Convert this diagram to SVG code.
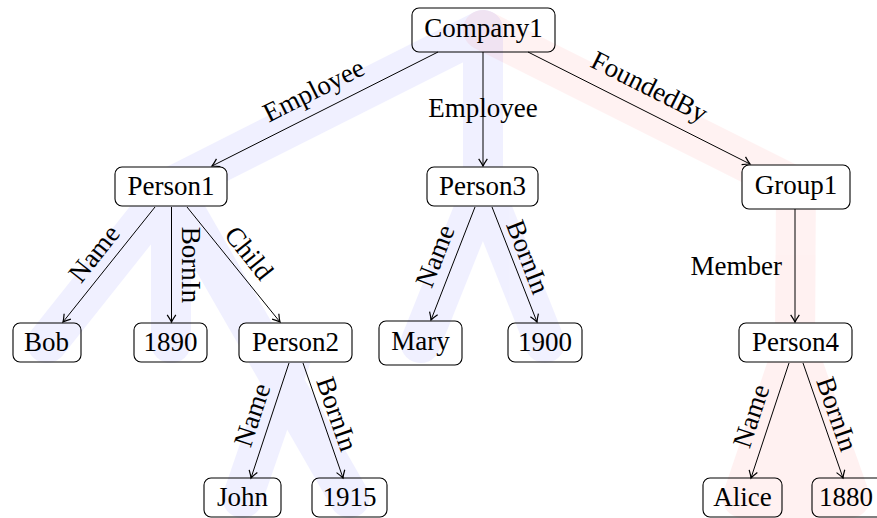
<svg xmlns="http://www.w3.org/2000/svg" width="877" height="518" viewBox="0 0 877 518">
<defs>
<style>
text{font-family:'Liberation Serif','DejaVu Serif',serif;font-size:27px;fill:#000}
.n text{text-anchor:middle}
.box{stroke:#000;stroke-width:1.1}
.in{fill:#fff}
.lf{fill:none}
.e line{stroke:#000;stroke-width:1;marker-end:url(#arr)}
.lbl text{text-anchor:middle}
.band{fill:none;stroke-width:40;stroke-linecap:round;stroke-linejoin:round}
</style>
<marker id="arr" markerUnits="userSpaceOnUse" markerWidth="12" markerHeight="12" viewBox="-7 -5 8 10" refX="0" refY="0" orient="auto">
<path d="M-6,-3.6 Q-2.2,-1 0,0 Q-2.2,1 -6,3.6" fill="none" stroke="#000" stroke-width="1"/>
</marker>
</defs>
<rect width="877" height="518" fill="#fff"/>
<g id="highlights">
<g opacity="0.055" stroke="#0000ff" class="band">
<path d="M483,30 L171,187 L47,343"/>
<path d="M171,187 L171,343"/>
<path d="M171,187 L349.5,498"/>
<path d="M296,343 L242.5,498"/>
<path d="M483,30 L483,187 L420.5,343"/>
<path d="M483,187 L545,343"/>
</g>
<g opacity="0.05" stroke="#ff0000" class="band">
<path d="M483,30 L796,187 L795,343"/>
<path d="M795,343 L742.5,498 L850,498 Z" fill="#ff0000"/>
</g>
</g>
<g id="connectors" class="e">
<line x1="438" y1="52" x2="212" y2="166"/>
<line x1="483" y1="52" x2="483" y2="166"/>
<line x1="528" y1="52" x2="750" y2="164"/>
<line x1="155" y1="207" x2="63" y2="322"/>
<line x1="171.5" y1="207" x2="171.5" y2="322"/>
<line x1="187" y1="207" x2="280" y2="322"/>
<line x1="289" y1="363" x2="251" y2="478"/>
<line x1="303" y1="363" x2="343" y2="478"/>
<line x1="475" y1="207" x2="431" y2="320"/>
<line x1="492" y1="207" x2="537" y2="322"/>
<line x1="795" y1="209" x2="795" y2="322"/>
<line x1="789" y1="363" x2="751" y2="478"/>
<line x1="803" y1="363" x2="843" y2="478"/>
</g>
<g id="edge-labels" class="lbl" font-family="'Liberation Serif','DejaVu Serif',serif">
<text transform="translate(314,91) rotate(-26.7)" y="8">Employee</text>
<text x="483" y="117">Employee</text>
<text transform="translate(649,87.5) rotate(26.7)" y="8">FoundedBy</text>
<text x="782" y="275" style="text-anchor:end">Member</text>
<text transform="translate(94,253.5) rotate(-51.6)" y="9">Name</text>
<text transform="translate(191,265) rotate(90)" y="9">BornIn</text>
<text transform="translate(249,253) rotate(51.3)" y="9">Child</text>
<text transform="translate(252,415) rotate(-71.7)" y="9">Name</text>
<text transform="translate(337,414) rotate(70.8)" y="9">BornIn</text>
<text transform="translate(435,256) rotate(-68.6)" y="9">Name</text>
<text transform="translate(528,257) rotate(68.8)" y="9">BornIn</text>
<text transform="translate(751,416) rotate(-71.7)" y="9">Name</text>
<text transform="translate(837,414) rotate(70.8)" y="9">BornIn</text>
</g>
<g id="nodes" font-family="'Liberation Serif','DejaVu Serif',serif">
<g id="company1" class="n"><rect class="box lf" x="412" y="8" width="143" height="44" rx="7"/><text x="483.5" y="37">Company1</text></g>
<g id="person1" class="n"><rect class="box in" x="115" y="167" width="112" height="39" rx="7"/><text x="171" y="195">Person1</text></g>
<g id="person3" class="n"><rect class="box in" x="427" y="167" width="111" height="39" rx="7"/><text x="482.5" y="195">Person3</text></g>
<g id="group1" class="n"><rect class="box in" x="742" y="165" width="108" height="44" rx="7"/><text x="796" y="194">Group1</text></g>
<g id="bob" class="n"><rect class="box lf" x="13" y="323" width="68" height="39" rx="7"/><text x="46.5" y="351">Bob</text></g>
<g id="y1890" class="n"><rect class="box lf" x="134" y="323" width="73" height="39" rx="7"/><text x="170.5" y="351">1890</text></g>
<g id="person2" class="n"><rect class="box in" x="239" y="323" width="113" height="39" rx="7"/><text x="295.5" y="351">Person2</text></g>
<g id="mary" class="n"><rect class="box lf" x="379" y="321" width="83" height="44" rx="7"/><text x="420.5" y="350">Mary</text></g>
<g id="y1900" class="n"><rect class="box lf" x="508" y="323" width="74" height="39" rx="7"/><text x="545" y="351">1900</text></g>
<g id="person4" class="n"><rect class="box in" x="739" y="323" width="113" height="39" rx="7"/><text x="795.5" y="351">Person4</text></g>
<g id="john" class="n"><rect class="box lf" x="204" y="478" width="77" height="39" rx="7"/><text x="242.5" y="506">John</text></g>
<g id="y1915" class="n"><rect class="box lf" x="312" y="478" width="75" height="39" rx="7"/><text x="349.5" y="506">1915</text></g>
<g id="alice" class="n"><rect class="box lf" x="703" y="478" width="79" height="39" rx="7"/><text x="742.5" y="506">Alice</text></g>
<g id="y1880" class="n"><rect class="box lf" x="812" y="478" width="72" height="39" rx="7"/><text x="846" y="506">1880</text></g>
</g>
</svg>
